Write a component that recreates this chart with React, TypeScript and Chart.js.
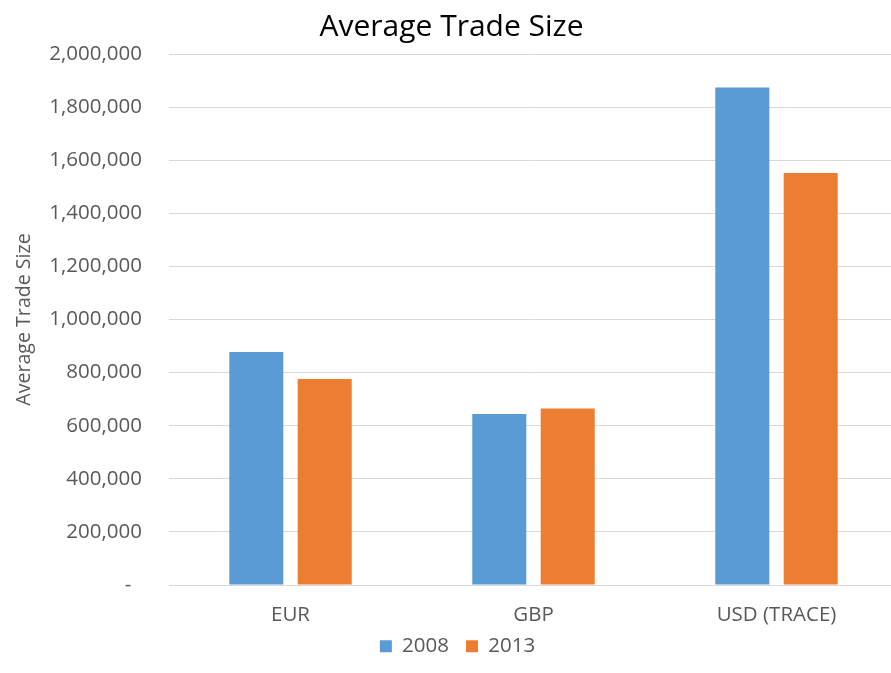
import React, { useEffect, useRef } from "react";
import { Chart, registerables } from "chart.js";

Chart.register(...registerables);

const categories = ["EUR", "GBP", "USD (TRACE)"];
const seriesNames = ["2008", "2013"];
const values2008 = [878000, 644000, 1874000];
const values2013 = [776000, 665000, 1552000];
const colors = ["#5B9BD5", "#ED7D31"];
const yMin = 0;
const yMax = 2000000;
const yStep = 200000;
const chartTitle = "Average Trade Size";
const yAxisTitle = "Average Trade Size";

const FONT = "'Open Sans', sans-serif";
const PAD_LEFT = 5;
const PLOT_LEFT = 169;
const LEGEND_SHIFT_X = 6;
const LEGEND_SHIFT_Y = -10;

function formatTick(v: number): string {
  if (v === 0) return "-  ";
  return v.toLocaleString("en-US");
}

const legendNudge = {
  id: "legendNudge",
  afterLayout(chart: any) {
    const lg = chart.legend;
    if (!lg) return;
    lg.top += LEGEND_SHIFT_Y;
    lg.bottom += LEGEND_SHIFT_Y;
    lg.left += LEGEND_SHIFT_X;
    lg.right += LEGEND_SHIFT_X;
  },
};

export default function App() {
  const ref = useRef<HTMLCanvasElement | null>(null);
  useEffect(() => {
    if (!ref.current) return;
    const chart = new Chart(ref.current, {
      type: "bar",
      data: {
        labels: categories,
        datasets: [
          {
            label: seriesNames[0],
            data: values2008,
            backgroundColor: colors[0],
            categoryPercentage: 0.563,
            barPercentage: 0.79,
          },
          {
            label: seriesNames[1],
            data: values2013,
            backgroundColor: colors[1],
            categoryPercentage: 0.563,
            barPercentage: 0.79,
          },
        ],
      },
      plugins: [legendNudge],
      options: {
        responsive: false,
        animation: false,
        layout: { padding: { left: PAD_LEFT, right: 6, top: 0, bottom: -3.5 } },
        plugins: {
          title: {
            display: true,
            text: chartTitle,
            color: "#000000",
            font: { family: FONT, size: 30, weight: "normal" },
            padding: { top: 9, bottom: 9 },
          },
          legend: {
            display: true,
            position: "bottom",
            labels: {
              boxWidth: 12,
              boxHeight: 12,
              color: "#595959",
              font: { family: FONT, size: 20.5 },
              padding: 17,
            },
          },
          tooltip: { enabled: false },
        },
        scales: {
          x: {
            grid: { display: false, drawTicks: false },
            border: { display: false },
            ticks: {
              color: "#595959",
              font: { family: FONT, size: 20.5 },
              padding: 18,
            },
            afterFit: (scale: any) => {
              scale.height = 44;
            },
          },
          y: {
            min: yMin,
            max: yMax,
            grid: { color: "#d9d9d9", lineWidth: 1, drawTicks: false },
            border: { display: false },
            ticks: {
              stepSize: yStep,
              color: "#595959",
              font: { family: FONT, size: 20.5 },
              padding: 27,
              callback: (v: any) => formatTick(Number(v)),
            },
            title: {
              display: true,
              text: yAxisTitle,
              color: "#595959",
              font: { family: FONT, size: 19.6 },
              padding: { top: 8, bottom: 0 },
            },
            afterFit: (scale: any) => {
              scale.width = PLOT_LEFT - PAD_LEFT;
            },
          },
        },
      },
    });
    return () => chart.destroy();
  }, []);
  return (
    <div
      style={{
        position: "fixed",
        left: 0,
        top: 0,
        width: 891,
        height: 673,
        overflow: "hidden",
        background: "#ffffff",
      }}
    >
      <canvas ref={ref} width={904} height={673} style={{ width: 904, height: 673, display: "block" }} />
    </div>
  );
}
